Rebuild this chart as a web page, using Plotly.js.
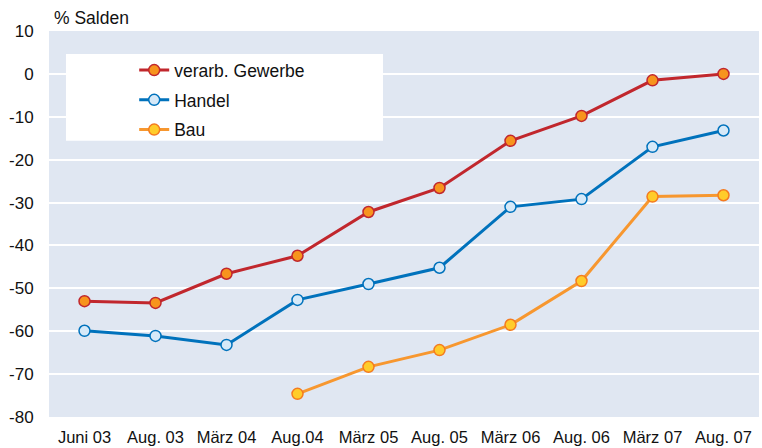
<!DOCTYPE html>
<html><head><meta charset="utf-8">
<script src="https://cdn.plot.ly/plotly-3.0.1.min.js"></script>
<style>body{margin:0;background:#fff}#c{width:762px;height:448px}</style>
</head><body><div id="c"></div>
<script>
const categories = ["Juni 03","Aug. 03","März 04","Aug.04","März 05","Aug. 05","März 06","Aug. 06","März 07","Aug. 07"];
const gewerbe = [-53, -53.4, -46.6, -42.4, -32.2, -26.6, -15.6, -9.8, -1.5, 0];
const handel = [-59.9, -61.1, -63.2, -52.7, -49, -45.2, -31, -29.2, -17, -13.2];
const bau = [null, null, null, -74.6, -68.3, -64.4, -58.5, -48.3, -28.6, -28.3];
const yTickVals = [10, 0, -10, -20, -30, -40, -50, -60, -70, -80];
const yTickText = ["10", "0", "-10", "-20", "-30", "-40", "-50", "-60", "-70", "-80"];

function tr(name, y, lc, fc, mc){
  return {type:'scatter', mode:'lines+markers', name:name, legendgroup:name, x:categories, y:y,
    line:{color:lc, width:3}, marker:{size:11, color:fc, line:{color:mc, width:1.5}}, connectgaps:false};
}
const data = [
  tr('verarb. Gewerbe', gewerbe, '#c1272d', '#f7941d', '#c1272d'),
  tr('Handel', handel, '#0072bc', '#d6e9f8', '#0072bc'),
  tr('Bau', bau, '#f7972f', '#ffcc2a', '#f47b20')
];
const layout = {
  width:762, height:448,
  margin:{l:49, r:3, t:31, b:31},
  paper_bgcolor:'#fff', plot_bgcolor:'#e0e7f2',
  font:{family:'Liberation Sans, Arial, sans-serif', size:17, color:'#111'},
  showlegend:true,
  legend:{x:0.12, y:0.945, xanchor:'left', yanchor:'top', bgcolor:'rgba(0,0,0,0)', font:{size:17.5}, tracegroupgap:4},
  xaxis:{type:'category', range:[-0.5,9.5], showgrid:false, zeroline:false, showline:false, ticks:'outside', ticklen:5, tickcolor:'rgba(0,0,0,0)', tickfont:{size:16.5}, fixedrange:true},
  yaxis:{range:[-80,10], tickmode:'array', tickvals:yTickVals, ticktext:yTickText, showgrid:true, gridcolor:'#ffffff', gridwidth:2, zeroline:false, showline:false, ticks:'outside', ticklen:11, tickcolor:'rgba(0,0,0,0)', tickfont:{size:17}, fixedrange:true},
  shapes:[{type:'rect', xref:'paper', yref:'paper', x0:0.0239, x1:0.4704, y0:0.7159, y1:0.9404, fillcolor:'#ffffff', line:{width:0}, layer:'below'}],
  annotations:[{text:'% Salden', xref:'paper', yref:'paper', x:0.004, y:1, yshift:1, xanchor:'left', yanchor:'bottom', showarrow:false, font:{size:17.5}}]
};
Plotly.newPlot('c', data, layout, {staticPlot:true});
</script></body></html>
